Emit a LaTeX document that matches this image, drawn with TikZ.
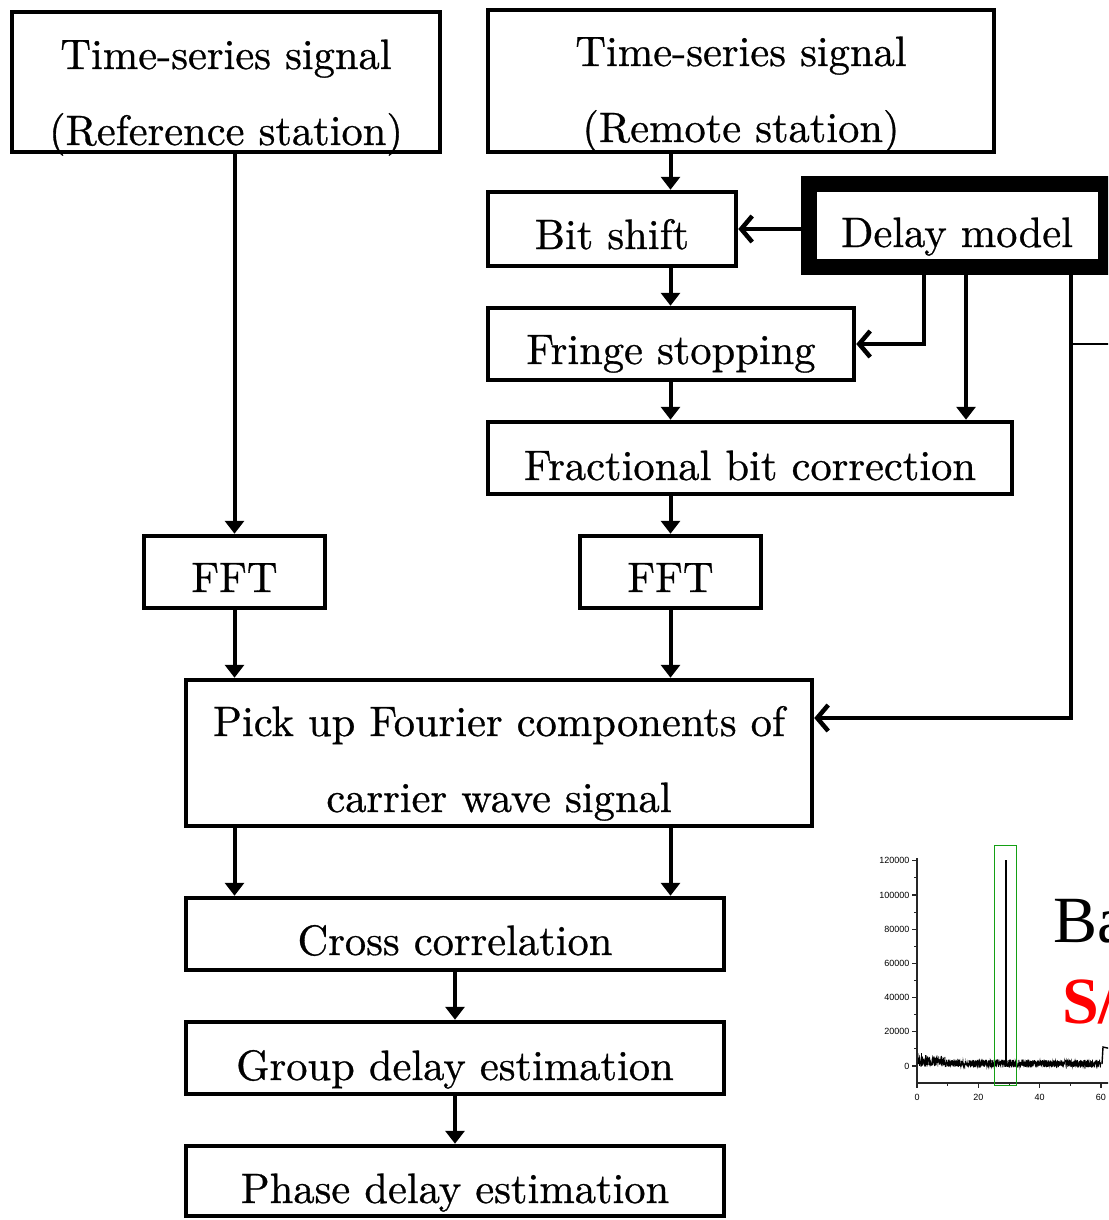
\documentclass[tikz,border=0pt]{standalone}
\usepackage{fontspec}
\newfontfamily\timesfont{Liberation Serif}
\newfontfamily\arialfont{Liberation Sans}
\newfontfamily\boxfont{lmroman10-regular.otf}[FakeBold=0.7]
\usetikzlibrary{arrows.meta}
\definecolor{plotgreen}{RGB}{20,160,20}
\newcommand{\lowtxt}[2]{\raisebox{#1}[0pt][0pt]{#2}}
\newcommand{\twolines}[3]{\raisebox{#1}[0pt][0pt]{\begin{tabular}[t]{@{}c@{}}#2\\#3\end{tabular}}}
\tikzset{
  box/.style={draw, line width=4.5pt, inner sep=0pt, font=\boxfont\fontsize{42.5}{76}\selectfont},
  dmbox/.style={draw, line width=16pt, inner sep=0pt, font=\boxfont\fontsize{42.5}{76}\selectfont},
  arr/.style={line width=4pt, -{Triangle[length=13pt,width=19pt]}},
  barb/.style={line width=4pt, -{Straight Barb[length=11pt,width=26pt,line width=4.5pt]}},
  axisline/.style={line width=1.2pt, black!85},
  ticklab/.style={font=\arialfont\fontsize{9}{10}\selectfont, inner sep=0pt},
}
\begin{document}
\begin{tikzpicture}[x=1pt,y=-1pt]
\useasboundingbox (0,0) rectangle (1108,1220);
\begin{scope}
\clip (0,0) rectangle (1108,1220);
% boxes
\node[box, minimum width=428pt, minimum height=140pt] (ref) at (226,82)
  {\twolines{13pt}{Time-series signal}{(Reference station)}};
\node[box, minimum width=506pt, minimum height=142pt] (remote) at (741,81)
  {\twolines{15pt}{Time-series signal}{(Remote station)}};
\node[box, minimum width=248pt, minimum height=74pt] (bitshift) at (612,229)
  {\lowtxt{-20pt}{Bit shift}};
\node[dmbox, minimum width=297pt, minimum height=83pt] (delay) at (957,225)
  {\lowtxt{-22pt}{Delay model}};
\node[box, minimum width=366pt, minimum height=72pt] (fringe) at (671,344)
  {\lowtxt{-20pt}{Fringe stopping}};
\node[box, minimum width=524pt, minimum height=72pt] (frac) at (750,458)
  {\lowtxt{-22pt}{Fractional bit correction}};
\node[box, minimum width=181pt, minimum height=72pt] (fftL) at (234.5,572)
  {\lowtxt{-20pt}{FFT}};
\node[box, minimum width=181pt, minimum height=72pt] (fftR) at (670.5,572)
  {\lowtxt{-20pt}{FFT}};
\node[box, minimum width=626pt, minimum height=146pt] (pickup) at (499,753)
  {\twolines{17pt}{Pick up Fourier components of}{carrier wave signal}};
\node[box, minimum width=538pt, minimum height=72pt] (cross) at (455,934)
  {\lowtxt{-21pt}{Cross correlation}};
\node[box, minimum width=538pt, minimum height=72pt] (group) at (455,1058)
  {\lowtxt{-22pt}{Group delay estimation}};
\node[box, minimum width=538pt, minimum height=70pt] (phase) at (455,1181)
  {\lowtxt{-22pt}{Phase delay estimation}};
% branch coordinates
\coordinate (dx1) at (924,0);
\coordinate (dx2) at (966,0);
\coordinate (dx3) at (1071,0);
\coordinate (tj) at (1071,344);
\coordinate (tend) at (1112,344);
% connectors
\draw[arr] (ref.south -| fftL) -- (fftL.north);
\draw[arr] (remote.south -| fftR) -- (bitshift.north -| fftR);
\draw[barb] (bitshift.east -| delay.west) -- (bitshift.east);
\draw[arr] (bitshift.south -| fftR) -- (fringe.north -| fftR);
\draw[barb] (delay.south -| dx1) |- (fringe.east);
\draw[arr] (delay.south -| dx2) -- (frac.north -| dx2);
\draw[barb] (delay.south -| dx3) |- ([yshift=35pt]pickup.east);
\draw[line width=1.3pt] (tj) -- (tend);
\draw[arr] (fringe.south -| fftR) -- (frac.north -| fftR);
\draw[arr] (frac.south -| fftR) -- (fftR.north);
\draw[arr] (fftL.south) -- (pickup.north -| fftL);
\draw[arr] (fftR.south) -- (pickup.north -| fftR);
\draw[arr] (pickup.south -| fftL) -- (cross.north -| fftL);
\draw[arr] (pickup.south -| fftR) -- (cross.north -| fftR);
\draw[arr] (cross.south) -- (group.north);
\draw[arr] (group.south) -- (phase.north);
% plot
\draw[axisline] (917,858) -- (917,1083) -- (1112,1083);
\foreach \v/\t in {0/0,1/20000,2/40000,3/60000,4/80000,5/100000,6/120000}{
  \draw[axisline] (912,1066-34.2*\v) -- (917,1066-34.2*\v);
  \node[ticklab, anchor=east] at (909.5,1066-34.2*\v) {\t};
}
\foreach \v in {0,...,5}{
  \draw[axisline, line width=0.9pt] (914,1048.9-34.2*\v) -- (917,1048.9-34.2*\v);
}
\foreach \k/\t in {0/0,1/20,2/40,3/60}{
  \draw[axisline] (917+61.3*\k,1083) -- (917+61.3*\k,1088);
  \node[ticklab] at (917+61.3*\k,1097) {\t};
}
\foreach \k in {0,1,2}{
  \draw[axisline, line width=0.9pt] (947.65+61.3*\k,1083) -- (947.65+61.3*\k,1086);
}
\pgfmathsetseed{7}
\draw[line width=0.6pt] plot[variable=\t, domain=918:1101, samples=1400]
  (\t,{1067.5-8*rnd-(\t<945)*5*rnd});
\draw[line width=0.8pt] (921,1066) -- (921,1053) (925,1066) -- (925,1055) (919,1066) -- (919,1057);
\draw[line width=1.6pt] (1006,1064) -- (1006,860);
\draw[line width=1.4pt] (1102,1064) -- (1103,1047) -- (1112,1049);
\draw[plotgreen, line width=1.8pt] (994.5,845.5) rectangle (1016.5,1085.5);
\node[anchor=base west, inner sep=0pt, font=\timesfont\fontsize{66}{70}\selectfont] (ba) at (1053,942) {Ba};
\node[anchor=base west, inner sep=0pt, text=red, font=\timesfont\bfseries\fontsize{66}{70}\selectfont] (sa) at (1062,1023) {S/};
\end{scope}
\end{tikzpicture}
\end{document}
